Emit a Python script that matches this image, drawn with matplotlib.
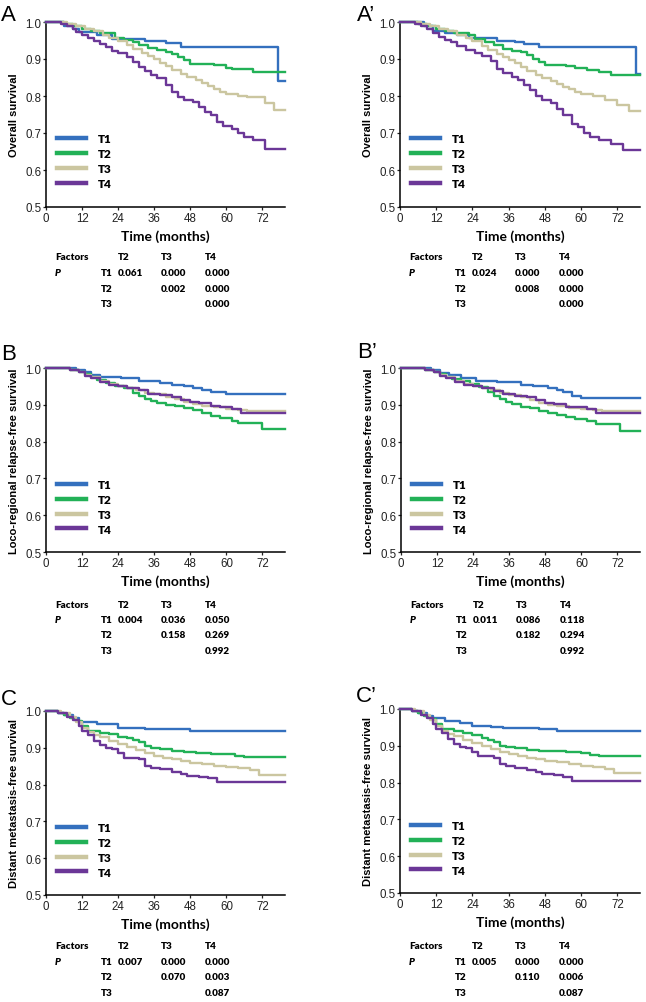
import matplotlib
matplotlib.use("Agg")
import matplotlib.pyplot as plt
from matplotlib.lines import Line2D

# DATA (Kaplan-Meier step points)
groups = ["T1", "T2", "T3", "T4"]
x_ticks = [0, 12, 24, 36, 48, 60, 72]
y_ticks = [0.5, 0.6, 0.7, 0.8, 0.9, 1.0]
col_heads = ["T2", "T3", "T4"]
row_heads = ["T1", "T2", "T3"]

# panel A - overall survival
a_t1_t = [0, 6, 9, 11, 17, 22, 33, 40, 45, 77.3]
a_t1_s = [1.0, 0.99, 0.98, 0.973, 0.966, 0.955, 0.949, 0.942, 0.932, 0.84]
a_t2_t = [0, 6, 9, 12, 15, 18, 23, 26, 29, 31, 34, 37, 40, 42, 44, 46, 48, 56, 60, 62, 69]
a_t2_s = [1.0, 0.995, 0.988, 0.982, 0.976, 0.97, 0.957, 0.952, 0.947, 0.938, 0.93, 0.923, 0.918, 0.914, 0.905, 0.897, 0.887, 0.883, 0.876, 0.872, 0.864]
a_t3_t = [0, 7, 10, 13, 16, 19, 21, 24, 27, 29, 32, 34, 36, 38, 40, 42, 45, 47, 50, 52, 54, 56, 58, 60, 64, 67, 73, 76]
a_t3_s = [1.0, 0.995, 0.99, 0.982, 0.975, 0.966, 0.957, 0.948, 0.938, 0.928, 0.915, 0.907, 0.9, 0.89, 0.88, 0.87, 0.86, 0.851, 0.842, 0.835, 0.828, 0.82, 0.812, 0.806, 0.8, 0.797, 0.78, 0.761]
a_t4_t = [0, 5, 7, 9, 10, 12, 14, 16, 18, 20, 22, 24, 27, 29, 31, 33, 35, 37, 40, 42, 44, 46, 49, 51, 53, 55, 57, 59, 62, 64, 66, 69, 73]
a_t4_s = [1.0, 0.995, 0.99, 0.98, 0.973, 0.965, 0.957, 0.948, 0.94, 0.932, 0.922, 0.915, 0.905, 0.893, 0.878, 0.868, 0.858, 0.848, 0.83, 0.812, 0.798, 0.79, 0.785, 0.77, 0.758, 0.75, 0.73, 0.72, 0.712, 0.7, 0.69, 0.68, 0.657]
a_p = [["0.061", "0.000", "0.000"], ["", "0.002", "0.000"], ["", "", "0.000"]]

# panel A'
ap_t1_t = [0, 8, 11, 15, 19, 23, 32, 38, 41, 46, 78.2]
ap_t1_s = [1.0, 0.99, 0.977, 0.97, 0.965, 0.958, 0.95, 0.945, 0.94, 0.932, 0.86]
ap_t2_t = [0, 6, 9, 12, 15, 18, 23, 25, 28, 31, 34, 37, 40, 42, 44, 46, 48, 55, 58, 62, 66, 70]
ap_t2_s = [1.0, 0.995, 0.988, 0.982, 0.976, 0.97, 0.965, 0.955, 0.947, 0.938, 0.928, 0.922, 0.918, 0.912, 0.9, 0.893, 0.885, 0.882, 0.876, 0.87, 0.865, 0.857]
ap_t3_t = [0, 7, 10, 13, 16, 19, 22, 24, 27, 29, 32, 34, 36, 38, 40, 42, 45, 47, 50, 52, 54, 56, 58, 60, 64, 68, 72, 76]
ap_t3_s = [1.0, 0.995, 0.99, 0.982, 0.975, 0.966, 0.957, 0.948, 0.935, 0.925, 0.913, 0.905, 0.897, 0.888, 0.878, 0.868, 0.857, 0.848, 0.84, 0.832, 0.825, 0.818, 0.81, 0.805, 0.8, 0.79, 0.775, 0.76]
ap_t4_t = [0, 5, 7, 9, 11, 13, 15, 17, 19, 22, 25, 27, 30, 32, 34, 37, 39, 41, 43, 45, 47, 50, 52, 54, 57, 59, 61, 63, 66, 70, 74]
ap_t4_s = [1.0, 0.995, 0.99, 0.98, 0.97, 0.96, 0.952, 0.945, 0.935, 0.925, 0.915, 0.908, 0.895, 0.872, 0.862, 0.852, 0.843, 0.83, 0.815, 0.8, 0.79, 0.78, 0.765, 0.75, 0.725, 0.715, 0.7, 0.69, 0.68, 0.67, 0.655]
ap_p = [["0.024", "0.000", "0.000"], ["", "0.008", "0.000"], ["", "", "0.000"]]

# panel B - loco-regional relapse-free survival
b_t1_t = [0, 10, 13, 15, 18, 25, 31, 38, 42, 46, 49, 52, 55, 60]
b_t1_s = [1.0, 0.995, 0.988, 0.982, 0.975, 0.972, 0.966, 0.96, 0.955, 0.95, 0.945, 0.94, 0.936, 0.928]
b_t2_t = [0, 8, 11, 13, 15, 17, 20, 23, 26, 29, 31, 33, 35, 37, 40, 43, 46, 49, 52, 55, 58, 62, 64, 72]
b_t2_s = [1.0, 0.995, 0.99, 0.985, 0.975, 0.968, 0.96, 0.952, 0.945, 0.932, 0.925, 0.916, 0.91, 0.905, 0.9, 0.896, 0.89, 0.885, 0.878, 0.869, 0.864, 0.857, 0.85, 0.833]
b_t3_t = [0, 8, 11, 13, 15, 18, 21, 24, 27, 30, 33, 36, 40, 43, 46, 49, 52, 56, 60, 64, 67, 70.5]
b_t3_s = [1.0, 0.995, 0.988, 0.98, 0.975, 0.965, 0.957, 0.95, 0.945, 0.94, 0.933, 0.928, 0.922, 0.915, 0.908, 0.903, 0.897, 0.893, 0.888, 0.885, 0.882, 0.882]
b_t4_t = [0, 8, 11, 13, 15, 18, 21, 24, 27, 31, 34, 38, 42, 45, 48, 51, 55, 58, 62, 65]
b_t4_s = [1.0, 0.995, 0.988, 0.978, 0.972, 0.962, 0.955, 0.951, 0.945, 0.939, 0.93, 0.926, 0.921, 0.912, 0.907, 0.905, 0.896, 0.893, 0.889, 0.879]
b_p = [["0.004", "0.036", "0.050"], ["", "0.158", "0.269"], ["", "", "0.992"]]

# panel B'
bp_t1_t = [0, 10, 13, 16, 20, 25, 32, 40, 44, 49, 52, 54, 57, 60]
bp_t1_s = [1.0, 0.995, 0.987, 0.98, 0.972, 0.966, 0.962, 0.955, 0.95, 0.945, 0.94, 0.935, 0.925, 0.919]
bp_t2_t = [0, 8, 11, 13, 15, 17, 20, 23, 26, 29, 31, 33, 35, 37, 40, 43, 46, 49, 52, 55, 58, 62, 65, 73]
bp_t2_s = [1.0, 0.995, 0.99, 0.983, 0.975, 0.97, 0.965, 0.957, 0.948, 0.935, 0.925, 0.915, 0.907, 0.902, 0.895, 0.89, 0.884, 0.878, 0.872, 0.866, 0.862, 0.856, 0.847, 0.828]
bp_t3_t = [0, 8, 11, 13, 15, 18, 21, 24, 27, 30, 33, 36, 40, 43, 46, 49, 52, 56, 60, 64, 67, 71]
bp_t3_s = [1.0, 0.995, 0.988, 0.98, 0.975, 0.965, 0.957, 0.95, 0.945, 0.94, 0.932, 0.927, 0.921, 0.913, 0.906, 0.9, 0.896, 0.892, 0.888, 0.885, 0.882, 0.882]
bp_t4_t = [0, 8, 11, 13, 15, 18, 21, 24, 27, 31, 34, 38, 42, 45, 48, 51, 55, 58, 62, 65]
bp_t4_s = [1.0, 0.995, 0.988, 0.978, 0.972, 0.962, 0.955, 0.951, 0.945, 0.938, 0.93, 0.925, 0.92, 0.912, 0.906, 0.902, 0.895, 0.893, 0.888, 0.879]
bp_p = [["0.011", "0.086", "0.118"], ["", "0.182", "0.294"], ["", "", "0.992"]]

# panel C - distant metastasis-free survival
c_t1_t = [0, 4, 6, 9, 11, 17, 24, 33, 48]
c_t1_s = [1.0, 0.995, 0.99, 0.98, 0.971, 0.966, 0.955, 0.95, 0.945]
c_t2_t = [0, 4, 6, 8, 10, 12, 14, 18, 21, 24, 27, 29, 31, 33, 35, 38, 42, 46, 50, 55, 60, 63, 66]
c_t2_s = [1.0, 0.995, 0.99, 0.98, 0.972, 0.96, 0.946, 0.94, 0.937, 0.93, 0.926, 0.92, 0.915, 0.905, 0.9, 0.896, 0.892, 0.889, 0.887, 0.884, 0.882, 0.878, 0.876]
c_t3_t = [0, 5, 8, 10, 12, 14, 16, 18, 21, 24, 27, 30, 33, 36, 39, 42, 45, 48, 52, 56, 60, 64, 68, 71]
c_t3_s = [1.0, 0.995, 0.985, 0.97, 0.955, 0.942, 0.934, 0.928, 0.918, 0.91, 0.903, 0.894, 0.885, 0.878, 0.872, 0.869, 0.864, 0.86, 0.855, 0.851, 0.848, 0.844, 0.84, 0.827]
c_t4_t = [0, 4, 7, 9, 11, 12, 14, 16, 18, 20, 22, 24, 26, 31, 33, 35, 38, 42, 45, 47, 51, 54, 57]
c_t4_s = [1.0, 0.995, 0.985, 0.975, 0.96, 0.945, 0.935, 0.918, 0.907, 0.9, 0.896, 0.885, 0.873, 0.87, 0.85, 0.845, 0.842, 0.835, 0.83, 0.824, 0.822, 0.818, 0.806]
c_p = [["0.007", "0.000", "0.000"], ["", "0.070", "0.003"], ["", "", "0.087"]]

# panel C'
cp_t1_t = [0, 4, 6, 9, 11, 15, 20, 24, 30, 34, 46, 52]
cp_t1_s = [1.0, 0.995, 0.99, 0.982, 0.975, 0.968, 0.962, 0.955, 0.952, 0.948, 0.945, 0.94]
cp_t2_t = [0, 4, 6, 8, 10, 12, 14, 18, 21, 24, 27, 29, 31, 33, 35, 38, 42, 46, 50, 55, 60, 63, 66]
cp_t2_s = [1.0, 0.995, 0.99, 0.98, 0.972, 0.96, 0.945, 0.94, 0.935, 0.928, 0.922, 0.915, 0.91, 0.9, 0.897, 0.893, 0.889, 0.886, 0.885, 0.883, 0.88, 0.875, 0.872]
cp_t3_t = [0, 5, 8, 10, 12, 14, 16, 18, 21, 24, 27, 30, 33, 36, 39, 42, 45, 48, 52, 56, 60, 64, 68, 71]
cp_t3_s = [1.0, 0.995, 0.985, 0.97, 0.955, 0.94, 0.932, 0.926, 0.916, 0.908, 0.9, 0.892, 0.884, 0.877, 0.872, 0.868, 0.863, 0.858, 0.855, 0.85, 0.846, 0.842, 0.838, 0.826]
cp_t4_t = [0, 4, 7, 9, 11, 12, 14, 16, 18, 20, 22, 24, 26, 31, 33, 35, 38, 42, 45, 47, 51, 54, 57]
cp_t4_s = [1.0, 0.995, 0.985, 0.975, 0.96, 0.945, 0.935, 0.918, 0.905, 0.898, 0.893, 0.883, 0.872, 0.868, 0.85, 0.845, 0.84, 0.835, 0.83, 0.823, 0.82, 0.815, 0.805]
cp_p = [["0.005", "0.000", "0.000"], ["", "0.110", "0.006"], ["", "", "0.087"]]

# STYLE
colors = ["#3470be", "#22b157", "#cbc6a0", "#6b3797"]
x_end = 79.5
tick_font = "Liberation Sans"
text_font = "Lato"

W, H = 646, 1003
fig = plt.figure(figsize=(W / 100, H / 100), dpi=100)

# (letter, ylabel, series, pvals, axes left/right/top/bottom in px, letter xy, table top y)
panels = [
    ("A", "Overall survival",
     [(a_t1_t, a_t1_s), (a_t2_t, a_t2_s), (a_t3_t, a_t3_s), (a_t4_t, a_t4_s)],
     a_p, (46, 285, 23, 208), (1, 21), 258),
    ("A\u2019", "Overall survival",
     [(ap_t1_t, ap_t1_s), (ap_t2_t, ap_t2_s), (ap_t3_t, ap_t3_s), (ap_t4_t, ap_t4_s)],
     ap_p, (400, 640, 23, 208), (357, 21), 258),
    ("B", "Loco-regional relapse-free survival",
     [(b_t1_t, b_t1_s), (b_t2_t, b_t2_s), (b_t3_t, b_t3_s), (b_t4_t, b_t4_s)],
     b_p, (46, 285, 369, 553), (1, 360), 605),
    ("B\u2019", "Loco-regional relapse-free survival",
     [(bp_t1_t, bp_t1_s), (bp_t2_t, bp_t2_s), (bp_t3_t, bp_t3_s), (bp_t4_t, bp_t4_s)],
     bp_p, (401, 640, 369, 553), (357, 358), 605),
    ("C", "Distant metastasis-free survival",
     [(c_t1_t, c_t1_s), (c_t2_t, c_t2_s), (c_t3_t, c_t3_s), (c_t4_t, c_t4_s)],
     c_p, (46, 285, 712, 896), (1, 705), 947),
    ("C\u2019", "Distant metastasis-free survival",
     [(cp_t1_t, cp_t1_s), (cp_t2_t, cp_t2_s), (cp_t3_t, cp_t3_s), (cp_t4_t, cp_t4_s)],
     cp_p, (400, 640, 710, 894), (356, 702), 947),
]


def draw_panel(letter, ylabel, series, pvals, box, letter_xy, table_y):
    l, r, t, b = box
    ax = fig.add_axes([l / W, 1 - b / H, (r - l) / W, (b - t) / H])

    for (tt, ss), c, g in zip(series, colors, groups):
        xs = list(tt) + [x_end]
        ys = list(ss) + [ss[-1]]
        ax.step(xs, ys, where="post", color=c, lw=1.7, clip_on=False, zorder=3)

    ax.set_xlim(0, x_end)
    ax.set_ylim(0.5, 1.0)
    ax.set_xticks(x_ticks)
    ax.set_yticks(y_ticks)
    ax.set_yticklabels([f"{v:.1f}" for v in y_ticks])
    for side in ["top", "right"]:
        ax.spines[side].set_visible(False)
    for side in ["left", "bottom"]:
        ax.spines[side].set_linewidth(1.1)
    ax.tick_params(length=2.5, width=0.9, pad=1, labelsize=8.3, colors="#222222")
    for lab in ax.get_xticklabels() + ax.get_yticklabels():
        lab.set_fontfamily(tick_font)

    ax.set_xlabel("Time (months)", fontfamily=text_font, fontweight="bold",
                  fontsize=10, labelpad=4)
    ax.set_ylabel(ylabel, fontfamily=tick_font, fontweight="bold",
                  fontsize=8, labelpad=4)

    handles = [Line2D([], [], color=c, lw=3.2) for c in colors]
    ax.legend(handles, groups, loc="upper left", bbox_to_anchor=(0.0, 0.455),
              frameon=False, handlelength=2.5, handletextpad=1.0,
              labelspacing=0.33, prop={"family": text_font, "weight": "heavy", "size": 8.5})

    fig.text(letter_xy[0] / W, 1 - letter_xy[1] / H, letter, fontfamily=tick_font,
             fontsize=16, ha="left", va="baseline")

    # p-value table
    kw = dict(fontfamily=text_font, fontweight="heavy", fontsize=7.1, va="center", ha="left")
    cols = [l + 72, l + 115, l + 159]
    fig.text((l + 9) / W, 1 - table_y / H, "Factors", **kw)
    for cx, head in zip(cols, col_heads):
        fig.text(cx / W, 1 - table_y / H, head, **kw)
    for i, rh in enumerate(row_heads):
        ry = table_y + 15.5 * (i + 1)
        if i == 0:
            fig.text((l + 9) / W, 1 - ry / H, "P", fontstyle="italic", **kw)
        fig.text((l + 55) / W, 1 - ry / H, rh, **kw)
        for cx, val in zip(cols, pvals[i]):
            if val:
                fig.text(cx / W, 1 - ry / H, val, **kw)


for p in panels:
    draw_panel(*p)

fig.savefig("out.png", dpi=100)
